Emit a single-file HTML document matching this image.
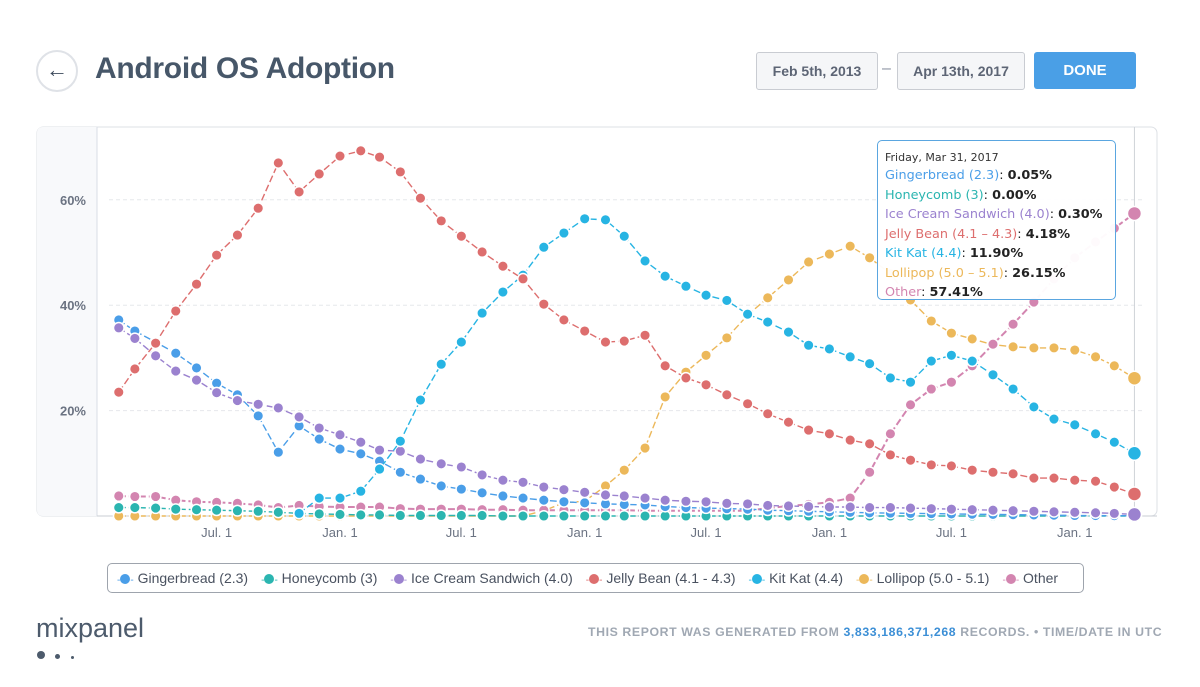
<!DOCTYPE html>
<html><head><meta charset="utf-8"><style>
body{margin:0;width:1200px;height:687px;background:#fff;font-family:"Liberation Sans",sans-serif;position:relative;overflow:hidden}
.abs{position:absolute}
.btn{position:absolute;top:52px;height:36px;border:1px solid #c9ccd2;border-radius:3px;background:#f5f6f8;color:#5d6575;font-size:14px;font-weight:bold;line-height:36px;text-align:center}
</style></head><body>
<div class="abs" style="left:36px;top:50px;width:38px;height:38px;border:2px solid #dfe2e7;border-radius:50%;text-align:center;line-height:36px;font-size:22px;color:#3d4a5c;font-weight:bold">&#8592;</div>
<div class="abs" style="left:95px;top:52px;font-size:30px;font-weight:bold;color:#475769;letter-spacing:-0.3px">Android OS Adoption</div>
<div class="btn" style="left:756px;width:120px">Feb 5th, 2013</div>
<div class="abs" style="left:882px;top:60px;color:#8a90a0">–</div>
<div class="btn" style="left:897px;width:126px">Apr 13th, 2017</div>
<div class="abs" style="left:1034px;top:52px;width:102px;height:37px;background:#4a9fe6;border-radius:3px;color:#fff;font-weight:bold;font-size:15px;line-height:37px;text-align:center">DONE</div>

<svg class="abs" style="left:0;top:0" width="1200" height="687" id="chart">
<rect x="37" y="127" width="1120" height="389" rx="6" fill="#fff" stroke="#dde0e5"/>
<path d="M43,127 L97,127 L97,516 L43,516 Q37,516 37,510 L37,133 Q37,127 43,127Z" fill="#f8f9fb"/>
<line x1="97" y1="127" x2="97" y2="516" stroke="#d8dde6"/>
<g id="grid"></g><g id="series"></g>
</svg>

<div class="abs" style="left:877px;top:140px;width:239px;height:160px;border:1px solid #5aa6e0;border-radius:5px;background:rgba(255,255,255,0.96);font-size:12.8px;line-height:19.5px;padding:8px 0 0 7px;box-sizing:border-box;font-family:'DejaVu Sans',sans-serif;color:#222;white-space:nowrap">
<div style="font-size:11px;color:#333;line-height:17px">Friday, Mar 31, 2017</div>
<div><span style="color:#4a9ee8">Gingerbread (2.3)</span>: <b>0.05%</b></div>
<div><span style="color:#2bb5b0">Honeycomb (3)</span>: <b>0.00%</b></div>
<div><span style="color:#9b82cf">Ice Cream Sandwich (4.0)</span>: <b>0.30%</b></div>
<div><span style="color:#dd6e6e">Jelly Bean (4.1 – 4.3)</span>: <b>4.18%</b></div>
<div><span style="color:#27b4e3">Kit Kat (4.4)</span>: <b>11.90%</b></div>
<div><span style="color:#ecb85a">Lollipop (5.0 – 5.1)</span>: <b>26.15%</b></div>
<div><span style="color:#d385b0">Other</span>: <b>57.41%</b></div>
</div>

<div class="abs" style="left:107px;top:563px;width:977px;height:30px;border:1px solid #9ea4ad;border-radius:5px;box-sizing:border-box;font-size:14px;color:#4a5260;line-height:28px;white-space:nowrap;padding-left:9px" id="legend"></div>

<div class="abs" style="left:36px;top:613px;font-size:27px;color:#4d5b6c">mixpanel</div>
<div class="abs" style="left:37px;top:646px">
<span style="display:inline-block;width:8px;height:8px;border-radius:50%;background:#4d5b6c"></span>
<span style="display:inline-block;width:5px;height:5px;border-radius:50%;background:#4d5b6c;margin-left:6px"></span>
<span style="display:inline-block;width:3px;height:3px;border-radius:50%;background:#4d5b6c;margin-left:6px"></span></div>
<div class="abs" style="left:588px;top:625px;font-size:12.3px;font-weight:bold;color:#a0a8b3;letter-spacing:0.6px">THIS REPORT WAS GENERATED FROM <span style="color:#3c8fd6">3,833,186,371,268</span> RECORDS. • TIME/DATE IN UTC</div>

<script>
const dates=["2013-02-05"];
for(let y=2013,m=3;;){dates.push(y+"-"+String(m).padStart(2,"0")+"-01");if(y===2017&&m===3)break;m++;if(m>12){m=1;y++;}}
dates.push("2017-03-31");
const names=["Gingerbread (2.3)","Honeycomb (3)","Ice Cream Sandwich (4.0)","Jelly Bean (4.1 - 4.3)","Kit Kat (4.4)","Lollipop (5.0 - 5.1)","Other"];
const colors=["#4a9ee8","#2bb5b0","#9b82cf","#dd6e6e","#27b4e3","#ecb85a","#d385b0"];
const gingerbread=[37.2,35.1,33,30.9,28.1,25.2,23.0,19.0,12.1,17.1,14.6,12.7,11.8,10.4,8.3,7.0,5.7,5.1,4.4,3.8,3.4,3.0,2.7,2.5,2.3,2.2,2.1,1.8,1.6,1.5,1.4,1.3,1.1,1.0,0.9,0.8,0.7,0.6,0.55,0.5,0.45,0.4,0.35,0.3,0.25,0.2,0.15,0.1,0.08,0.06,0.05];
const honeycomb=[1.6,1.6,1.5,1.3,1.2,1.1,1.0,0.9,0.7,0.5,0.4,0.3,0.2,0.2,0.1,0.1,0.1,0.1,0.1,0,0,0,0,0,0,0,0,0,0,0,0,0,0,0,0,0,0,0,0,0,0,0,0,0,0,0,0,0,0,0,0];
const ics=[35.7,33.7,30.4,27.5,25.8,23.4,21.9,21.2,20.5,18.8,16.7,15.4,14.0,12.5,12.3,10.8,9.9,9.3,7.8,6.8,6.4,5.5,5.0,4.5,4.0,3.8,3.4,3.0,2.8,2.7,2.4,2.3,2.0,1.9,1.8,1.7,1.7,1.6,1.6,1.5,1.4,1.3,1.2,1.1,1.0,0.9,0.8,0.7,0.6,0.5,0.3];
const jellyBean=[23.5,27.9,32.8,38.9,44.0,49.5,53.3,58.4,67.0,61.5,64.9,68.3,69.3,68.1,65.3,60.3,56.0,53.1,50.1,47.4,45.0,40.2,37.2,35.1,33.0,33.2,34.3,28.5,26.2,24.9,23.0,21.3,19.4,17.8,16.3,15.6,14.4,13.7,11.6,10.6,9.7,9.5,8.7,8.3,8.0,7.2,7.2,6.8,6.6,5.5,4.18];
const kitKat=[null,null,null,null,null,null,null,null,null,0.5,3.4,3.4,4.7,8.9,14.2,22.0,28.8,33.0,38.5,42.5,45.7,51.0,53.7,56.4,56.2,53.1,48.4,45.5,43.6,41.9,40.9,38.3,36.8,34.9,32.4,31.7,30.2,28.9,26.2,25.4,29.4,30.5,29.4,26.8,24.1,20.7,18.4,17.3,15.6,14.0,11.9];
const lollipop=[0,0,0,0,0,0,0,0,0,0,0,0,0,0,0,0,0,0,0,0,0,1.0,2.5,2.8,5.7,8.7,12.9,22.6,27.3,30.5,33.8,38.1,41.4,44.8,48.2,49.7,51.2,49.0,46,41,37.0,34.7,33.6,32.5,32.1,31.9,31.9,31.5,30.2,28.5,26.15];
const other=[3.8,3.7,3.7,3.0,2.7,2.6,2.4,2.1,1.6,2.0,1.8,1.7,1.7,1.7,1.4,1.3,1.3,1.3,1.2,1.2,1.1,1.1,1.1,1.1,1.1,1.1,1.0,1.0,1.0,1.0,1.0,1.0,1.5,1.9,2.2,2.6,3.4,8.3,15.6,21.1,24.1,25.4,28.5,32.6,36.4,40.6,45,49,52,54.6,57.41];
const yTicks=[20,40,60];
const xTickDates=["2013-07-01","2014-01-01","2014-07-01","2015-01-01","2015-07-01","2016-01-01","2016-07-01","2017-01-01"];
const xTickLabels=["Jul. 1","Jan. 1","Jul. 1","Jan. 1","Jul. 1","Jan. 1","Jul. 1","Jan. 1"];
const seriesData=[gingerbread,honeycomb,ics,jellyBean,kitKat,lollipop,other];
const seriesNames=["gingerbread","honeycomb","ice-cream-sandwich","jelly-bean","kit-kat","lollipop","other"];
const t0=Date.UTC(2014,0,1),pxDay=244.7/365;
function X(d){const p=d.split("-").map(Number);return 340+(Date.UTC(p[0],p[1]-1,p[2])-t0)/864e5*pxDay;}
function Y(v){return 516-v*5.27;}
const NS="http://www.w3.org/2000/svg",svg=document.getElementById("chart");
const grid=document.getElementById("grid"),ser=document.getElementById("series");
function mk(tag,at,parent){const e=document.createElementNS(NS,tag);for(const k in at)e.setAttribute(k,at[k]);parent.appendChild(e);return e;}
yTicks.forEach(v=>{
 const l=mk("line",{x1:109,x2:1145,y1:Y(v),y2:Y(v),stroke:"#e6e8eb","stroke-dasharray":"4,3"},grid);
 
 
 const t=mk("text",{x:86,y:Y(v)+5,"text-anchor":"end","font-size":"13",fill:"#6b7382","font-weight":"bold"},grid);t.textContent=v+"%";
 
 
});
const ax=mk("line",{x1:97,x2:1157,y1:516,y2:516,stroke:"#c9cdd3"},grid);


const vl=mk("line",{x1:X(dates[dates.length-1]),x2:X(dates[dates.length-1]),y1:127,y2:516,stroke:"#cfd3d8"},grid);


xTickDates.forEach((d,i)=>{const t=mk("text",{x:X(d),y:537,"text-anchor":"middle","font-size":"13",fill:"#6b7382"},grid);t.textContent=xTickLabels[i];
 
 });
const order=[5,6,1,0,2,4,3];
order.forEach(s=>{
 const g=mk("g",{},ser);
 
 
 const pts=seriesData[s].map((v,i)=>v===null?null:X(dates[i]).toFixed(1)+","+Y(v).toFixed(1)).filter(p=>p).join(" ");
 const pl=mk("polyline",{points:pts,fill:"none",stroke:colors[s],"stroke-width":s===6?2:1.4,"stroke-dasharray":"7,3"},g);
 
 
 seriesData[s].forEach((v,i)=>{if(v===null)return;const last=i===seriesData[s].length-1;
  const c=mk("circle",{cx:X(dates[i]),cy:Y(v),r:last?7:5.3,fill:colors[s],stroke:"#fff","stroke-width":1.5},g);
  
  });
});
const lg=document.getElementById("legend");
names.forEach((n,i)=>{const sp=document.createElement("span");
 
 
 sp.style.marginRight="13px";
 sp.innerHTML='<span style="color:'+colors[i]+';font-size:10px">-</span><span style="display:inline-block;width:10px;height:10px;border-radius:50%;background:'+colors[i]+';vertical-align:-1px"></span><span style="color:'+colors[i]+';font-size:10px">-</span> '+n;
 lg.appendChild(sp);});
</script>
</body></html>
